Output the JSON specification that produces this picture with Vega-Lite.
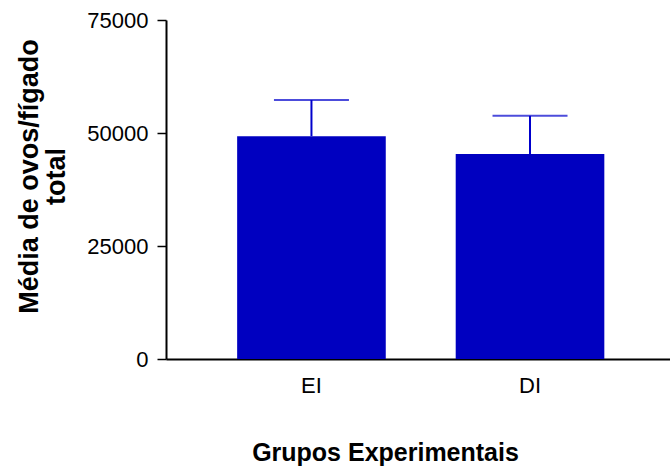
{
  "$schema": "https://vega.github.io/schema/vega-lite/v6.json",
  "width": 504,
  "height": 339,
  "autosize": "none",
  "padding": {"left": 166, "top": 20, "right": 0, "bottom": 117},
  "background": "white",
  "config": {
    "view": {"stroke": null},
    "font": "Liberation Sans"
  },
  "data": {
    "values": [
      {"grupo": "EI", "media": 49300, "superior": 57300},
      {"grupo": "DI", "media": 45350, "superior": 53800}
    ]
  },
  "encoding": {
    "x": {
      "field": "grupo",
      "type": "nominal",
      "sort": ["EI", "DI"],
      "scale": {"paddingInner": 0.32, "paddingOuter": 0.313, "align": 0.52},
      "axis": {
        "title": "Grupos Experimentais",
        "titleFont": "Liberation Sans",
        "titleFontSize": 25,
        "titleFontWeight": "bold",
        "titleColor": "black",
        "titleX": 219,
        "titlePadding": 44,
        "labelAngle": 0,
        "labelFont": "Liberation Sans",
        "labelFontSize": 22,
        "labelColor": "black",
        "labelPadding": 16,
        "ticks": false,
        "tickSize": 0,
        "domainColor": "black",
        "domainWidth": 2,
        "grid": false
      }
    }
  },
  "layer": [
    {
      "mark": {"type": "bar", "color": "#0000C0"},
      "encoding": {
        "y": {
          "field": "media",
          "type": "quantitative",
          "scale": {"domain": [0, 75000], "nice": false},
          "axis": {
            "title": ["Média de ovos/fígado", "total"],
            "titleFont": "Liberation Sans",
            "titleFontSize": 27,
            "titleFontWeight": "bold",
            "titleColor": "black",
            "titleLineHeight": 27,
            "titleX": -137,
            "titleY": 156,
            "titleBaseline": "middle",
            "values": [0, 25000, 50000, 75000],
            "format": "d",
            "labelFont": "Liberation Sans",
            "labelFontSize": 22,
            "labelColor": "black",
            "labelPadding": 9,
            "tickSize": 9,
            "tickWidth": 1.5,
            "tickColor": "black",
            "domainColor": "black",
            "domainWidth": 2,
            "grid": false
          }
        }
      }
    },
    {
      "mark": {"type": "rule", "color": "#0000CC", "strokeWidth": 2},
      "encoding": {
        "y": {"field": "media", "type": "quantitative"},
        "y2": {"field": "superior"}
      }
    },
    {
      "mark": {"type": "tick", "color": "#0000CC", "size": 75, "thickness": 2, "orient": "horizontal"},
      "encoding": {
        "y": {"field": "superior", "type": "quantitative"}
      }
    }
  ]
}
